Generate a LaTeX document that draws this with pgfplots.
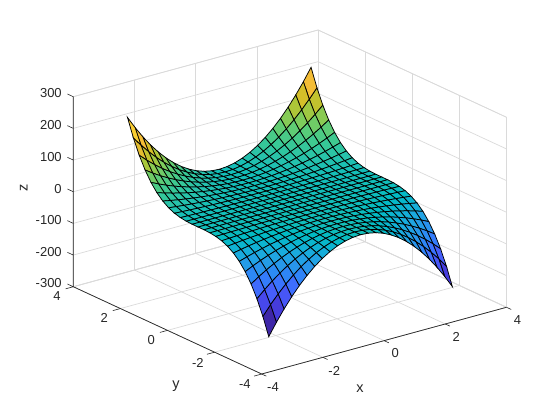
\documentclass[border=0pt]{standalone}
\usepackage{pgfplots}
\usepackage{fontspec}
\setmainfont{Liberation Sans}
\pgfplotsset{compat=1.18}
\definecolor{axdark}{RGB}{38,38,38}
\definecolor{gridc}{RGB}{218,218,218}
\begin{document}
\begin{tikzpicture}
\useasboundingbox (0,0) rectangle (560pt,420pt);
\begin{axis}[
  at={(289.9pt,218pt)}, anchor=origin,
  x={(30.6pt,8.34pt)}, y={(-23.55pt,10.91pt)}, z={(0pt,0.3167pt)},
  xmin=-4,xmax=4,ymin=-4,ymax=4,zmin=-300,zmax=300,
  xtick={-4,-2,0,2,4}, ytick={-4,-2,0,2,4}, ztick={-300,-200,-100,0,100,200,300},
  xticklabels={-4,-2,0,2,4}, yticklabels={-4,-2,0,2,4},
  zticklabels={-300,-200,-100,0,100,200,300},
  grid=major, major grid style={color=gridc,line width=0.7pt},
  axis line style={color=gridc,line width=0.7pt},
  tick style={draw=none},
  tick align=outside, major tick length=5pt,
  tick label style={font=\fontsize{13}{15}\selectfont,text=axdark},
  xticklabel style={xshift=1pt,yshift=-2pt},
  yticklabel style={xshift=-5pt},
  zticklabel style={xshift=-3.5pt},
  label style={font=\fontsize{14.5}{16}\selectfont,text=axdark},
  xlabel={x}, ylabel={y}, zlabel={z},
  xlabel style={at={(axis cs:-2.6,-6.35,-300)},anchor=center,yshift=-1pt},
  ylabel style={at={(axis cs:-6.21,-3.23,-300)},anchor=center,yshift=-2pt},
  zlabel style={at={(axis cs:-4.98,4.91,0)},anchor=center,rotate=0,xshift=2pt,yshift=-2pt},
  colormap={parula}{rgb=(.2422,.1504,.6603) rgb=(.2647,.1978,.7952) rgb=(.2783,.2559,.8991) rgb=(.2810,.3228,.9579) rgb=(.2699,.3892,.9906) rgb=(.2206,.4603,.9973) rgb=(.1786,.5289,.9682) rgb=(.1540,.5902,.9218) rgb=(.1248,.6459,.8883) rgb=(.0689,.6948,.8394) rgb=(.0067,.7312,.7660) rgb=(.1408,.7584,.6842) rgb=(.2161,.7843,.5923) rgb=(.3406,.8008,.4789) rgb=(.5044,.7993,.3480) rgb=(.6720,.7793,.2227) rgb=(.8203,.7498,.1535) rgb=(.9393,.7288,.2100) rgb=(.9970,.7659,.2199) rgb=(.9786,.8386,.1766) rgb=(.9597,.9135,.1423) rgb=(.9769,.9839,.0805)},
  clip=false,
]
\addplot3[surf, shader=flat corner, z buffer=sort, draw=black, faceted color=black, line width=0.75pt, mesh/rows=25, mesh/cols=25, point meta=z, point meta min=-243, point meta max=243] coordinates {
(-3,-3,-243)(-2.75,-3,-204.2)(-2.5,-3,-168.8)(-2.25,-3,-136.7)(-2,-3,-108)(-1.75,-3,-82.7)(-1.5,-3,-60.8)(-1.25,-3,-42.2)(-1,-3,-27)(-.75,-3,-15.2)(-.5,-3,-6.8)(-.25,-3,-1.7)(0,-3,0)(.25,-3,-1.7)(.5,-3,-6.8)(.75,-3,-15.2)(1,-3,-27)(1.25,-3,-42.2)(1.5,-3,-60.8)(1.75,-3,-82.7)(2,-3,-108)(2.25,-3,-136.7)(2.5,-3,-168.8)(2.75,-3,-204.2)(3,-3,-243)
(-3,-2.75,-187.2)(-2.75,-2.75,-157.3)(-2.5,-2.75,-130)(-2.25,-2.75,-105.3)(-2,-2.75,-83.2)(-1.75,-2.75,-63.7)(-1.5,-2.75,-46.8)(-1.25,-2.75,-32.5)(-1,-2.75,-20.8)(-.75,-2.75,-11.7)(-.5,-2.75,-5.2)(-.25,-2.75,-1.3)(0,-2.75,0)(.25,-2.75,-1.3)(.5,-2.75,-5.2)(.75,-2.75,-11.7)(1,-2.75,-20.8)(1.25,-2.75,-32.5)(1.5,-2.75,-46.8)(1.75,-2.75,-63.7)(2,-2.75,-83.2)(2.25,-2.75,-105.3)(2.5,-2.75,-130)(2.75,-2.75,-157.3)(3,-2.75,-187.2)
(-3,-2.5,-140.6)(-2.75,-2.5,-118.2)(-2.5,-2.5,-97.7)(-2.25,-2.5,-79.1)(-2,-2.5,-62.5)(-1.75,-2.5,-47.9)(-1.5,-2.5,-35.2)(-1.25,-2.5,-24.4)(-1,-2.5,-15.6)(-.75,-2.5,-8.8)(-.5,-2.5,-3.9)(-.25,-2.5,-1)(0,-2.5,0)(.25,-2.5,-1)(.5,-2.5,-3.9)(.75,-2.5,-8.8)(1,-2.5,-15.6)(1.25,-2.5,-24.4)(1.5,-2.5,-35.2)(1.75,-2.5,-47.9)(2,-2.5,-62.5)(2.25,-2.5,-79.1)(2.5,-2.5,-97.7)(2.75,-2.5,-118.2)(3,-2.5,-140.6)
(-3,-2.25,-102.5)(-2.75,-2.25,-86.1)(-2.5,-2.25,-71.2)(-2.25,-2.25,-57.7)(-2,-2.25,-45.6)(-1.75,-2.25,-34.9)(-1.5,-2.25,-25.6)(-1.25,-2.25,-17.8)(-1,-2.25,-11.4)(-.75,-2.25,-6.4)(-.5,-2.25,-2.8)(-.25,-2.25,-.7)(0,-2.25,0)(.25,-2.25,-.7)(.5,-2.25,-2.8)(.75,-2.25,-6.4)(1,-2.25,-11.4)(1.25,-2.25,-17.8)(1.5,-2.25,-25.6)(1.75,-2.25,-34.9)(2,-2.25,-45.6)(2.25,-2.25,-57.7)(2.5,-2.25,-71.2)(2.75,-2.25,-86.1)(3,-2.25,-102.5)
(-3,-2,-72)(-2.75,-2,-60.5)(-2.5,-2,-50)(-2.25,-2,-40.5)(-2,-2,-32)(-1.75,-2,-24.5)(-1.5,-2,-18)(-1.25,-2,-12.5)(-1,-2,-8)(-.75,-2,-4.5)(-.5,-2,-2)(-.25,-2,-.5)(0,-2,0)(.25,-2,-.5)(.5,-2,-2)(.75,-2,-4.5)(1,-2,-8)(1.25,-2,-12.5)(1.5,-2,-18)(1.75,-2,-24.5)(2,-2,-32)(2.25,-2,-40.5)(2.5,-2,-50)(2.75,-2,-60.5)(3,-2,-72)
(-3,-1.75,-48.2)(-2.75,-1.75,-40.5)(-2.5,-1.75,-33.5)(-2.25,-1.75,-27.1)(-2,-1.75,-21.4)(-1.75,-1.75,-16.4)(-1.5,-1.75,-12.1)(-1.25,-1.75,-8.4)(-1,-1.75,-5.4)(-.75,-1.75,-3)(-.5,-1.75,-1.3)(-.25,-1.75,-.3)(0,-1.75,0)(.25,-1.75,-.3)(.5,-1.75,-1.3)(.75,-1.75,-3)(1,-1.75,-5.4)(1.25,-1.75,-8.4)(1.5,-1.75,-12.1)(1.75,-1.75,-16.4)(2,-1.75,-21.4)(2.25,-1.75,-27.1)(2.5,-1.75,-33.5)(2.75,-1.75,-40.5)(3,-1.75,-48.2)
(-3,-1.5,-30.4)(-2.75,-1.5,-25.5)(-2.5,-1.5,-21.1)(-2.25,-1.5,-17.1)(-2,-1.5,-13.5)(-1.75,-1.5,-10.3)(-1.5,-1.5,-7.6)(-1.25,-1.5,-5.3)(-1,-1.5,-3.4)(-.75,-1.5,-1.9)(-.5,-1.5,-.8)(-.25,-1.5,-.2)(0,-1.5,0)(.25,-1.5,-.2)(.5,-1.5,-.8)(.75,-1.5,-1.9)(1,-1.5,-3.4)(1.25,-1.5,-5.3)(1.5,-1.5,-7.6)(1.75,-1.5,-10.3)(2,-1.5,-13.5)(2.25,-1.5,-17.1)(2.5,-1.5,-21.1)(2.75,-1.5,-25.5)(3,-1.5,-30.4)
(-3,-1.25,-17.6)(-2.75,-1.25,-14.8)(-2.5,-1.25,-12.2)(-2.25,-1.25,-9.9)(-2,-1.25,-7.8)(-1.75,-1.25,-6)(-1.5,-1.25,-4.4)(-1.25,-1.25,-3.1)(-1,-1.25,-2)(-.75,-1.25,-1.1)(-.5,-1.25,-.5)(-.25,-1.25,-.1)(0,-1.25,0)(.25,-1.25,-.1)(.5,-1.25,-.5)(.75,-1.25,-1.1)(1,-1.25,-2)(1.25,-1.25,-3.1)(1.5,-1.25,-4.4)(1.75,-1.25,-6)(2,-1.25,-7.8)(2.25,-1.25,-9.9)(2.5,-1.25,-12.2)(2.75,-1.25,-14.8)(3,-1.25,-17.6)
(-3,-1,-9)(-2.75,-1,-7.6)(-2.5,-1,-6.3)(-2.25,-1,-5.1)(-2,-1,-4)(-1.75,-1,-3.1)(-1.5,-1,-2.3)(-1.25,-1,-1.6)(-1,-1,-1)(-.75,-1,-.6)(-.5,-1,-.3)(-.25,-1,-.1)(0,-1,0)(.25,-1,-.1)(.5,-1,-.3)(.75,-1,-.6)(1,-1,-1)(1.25,-1,-1.6)(1.5,-1,-2.3)(1.75,-1,-3.1)(2,-1,-4)(2.25,-1,-5.1)(2.5,-1,-6.3)(2.75,-1,-7.6)(3,-1,-9)
(-3,-.75,-3.8)(-2.75,-.75,-3.2)(-2.5,-.75,-2.6)(-2.25,-.75,-2.1)(-2,-.75,-1.7)(-1.75,-.75,-1.3)(-1.5,-.75,-.9)(-1.25,-.75,-.7)(-1,-.75,-.4)(-.75,-.75,-.2)(-.5,-.75,-.1)(-.25,-.75,0)(0,-.75,0)(.25,-.75,0)(.5,-.75,-.1)(.75,-.75,-.2)(1,-.75,-.4)(1.25,-.75,-.7)(1.5,-.75,-.9)(1.75,-.75,-1.3)(2,-.75,-1.7)(2.25,-.75,-2.1)(2.5,-.75,-2.6)(2.75,-.75,-3.2)(3,-.75,-3.8)
(-3,-.5,-1.1)(-2.75,-.5,-.9)(-2.5,-.5,-.8)(-2.25,-.5,-.6)(-2,-.5,-.5)(-1.75,-.5,-.4)(-1.5,-.5,-.3)(-1.25,-.5,-.2)(-1,-.5,-.1)(-.75,-.5,-.1)(-.5,-.5,0)(-.25,-.5,0)(0,-.5,0)(.25,-.5,0)(.5,-.5,0)(.75,-.5,-.1)(1,-.5,-.1)(1.25,-.5,-.2)(1.5,-.5,-.3)(1.75,-.5,-.4)(2,-.5,-.5)(2.25,-.5,-.6)(2.5,-.5,-.8)(2.75,-.5,-.9)(3,-.5,-1.1)
(-3,-.25,-.1)(-2.75,-.25,-.1)(-2.5,-.25,-.1)(-2.25,-.25,-.1)(-2,-.25,-.1)(-1.75,-.25,0)(-1.5,-.25,0)(-1.25,-.25,0)(-1,-.25,0)(-.75,-.25,0)(-.5,-.25,0)(-.25,-.25,0)(0,-.25,0)(.25,-.25,0)(.5,-.25,0)(.75,-.25,0)(1,-.25,0)(1.25,-.25,0)(1.5,-.25,0)(1.75,-.25,0)(2,-.25,-.1)(2.25,-.25,-.1)(2.5,-.25,-.1)(2.75,-.25,-.1)(3,-.25,-.1)
(-3,0,0)(-2.75,0,0)(-2.5,0,0)(-2.25,0,0)(-2,0,0)(-1.75,0,0)(-1.5,0,0)(-1.25,0,0)(-1,0,0)(-.75,0,0)(-.5,0,0)(-.25,0,0)(0,0,0)(.25,0,0)(.5,0,0)(.75,0,0)(1,0,0)(1.25,0,0)(1.5,0,0)(1.75,0,0)(2,0,0)(2.25,0,0)(2.5,0,0)(2.75,0,0)(3,0,0)
(-3,.25,.1)(-2.75,.25,.1)(-2.5,.25,.1)(-2.25,.25,.1)(-2,.25,.1)(-1.75,.25,0)(-1.5,.25,0)(-1.25,.25,0)(-1,.25,0)(-.75,.25,0)(-.5,.25,0)(-.25,.25,0)(0,.25,0)(.25,.25,0)(.5,.25,0)(.75,.25,0)(1,.25,0)(1.25,.25,0)(1.5,.25,0)(1.75,.25,0)(2,.25,.1)(2.25,.25,.1)(2.5,.25,.1)(2.75,.25,.1)(3,.25,.1)
(-3,.5,1.1)(-2.75,.5,.9)(-2.5,.5,.8)(-2.25,.5,.6)(-2,.5,.5)(-1.75,.5,.4)(-1.5,.5,.3)(-1.25,.5,.2)(-1,.5,.1)(-.75,.5,.1)(-.5,.5,0)(-.25,.5,0)(0,.5,0)(.25,.5,0)(.5,.5,0)(.75,.5,.1)(1,.5,.1)(1.25,.5,.2)(1.5,.5,.3)(1.75,.5,.4)(2,.5,.5)(2.25,.5,.6)(2.5,.5,.8)(2.75,.5,.9)(3,.5,1.1)
(-3,.75,3.8)(-2.75,.75,3.2)(-2.5,.75,2.6)(-2.25,.75,2.1)(-2,.75,1.7)(-1.75,.75,1.3)(-1.5,.75,.9)(-1.25,.75,.7)(-1,.75,.4)(-.75,.75,.2)(-.5,.75,.1)(-.25,.75,0)(0,.75,0)(.25,.75,0)(.5,.75,.1)(.75,.75,.2)(1,.75,.4)(1.25,.75,.7)(1.5,.75,.9)(1.75,.75,1.3)(2,.75,1.7)(2.25,.75,2.1)(2.5,.75,2.6)(2.75,.75,3.2)(3,.75,3.8)
(-3,1,9)(-2.75,1,7.6)(-2.5,1,6.3)(-2.25,1,5.1)(-2,1,4)(-1.75,1,3.1)(-1.5,1,2.3)(-1.25,1,1.6)(-1,1,1)(-.75,1,.6)(-.5,1,.3)(-.25,1,.1)(0,1,0)(.25,1,.1)(.5,1,.3)(.75,1,.6)(1,1,1)(1.25,1,1.6)(1.5,1,2.3)(1.75,1,3.1)(2,1,4)(2.25,1,5.1)(2.5,1,6.3)(2.75,1,7.6)(3,1,9)
(-3,1.25,17.6)(-2.75,1.25,14.8)(-2.5,1.25,12.2)(-2.25,1.25,9.9)(-2,1.25,7.8)(-1.75,1.25,6)(-1.5,1.25,4.4)(-1.25,1.25,3.1)(-1,1.25,2)(-.75,1.25,1.1)(-.5,1.25,.5)(-.25,1.25,.1)(0,1.25,0)(.25,1.25,.1)(.5,1.25,.5)(.75,1.25,1.1)(1,1.25,2)(1.25,1.25,3.1)(1.5,1.25,4.4)(1.75,1.25,6)(2,1.25,7.8)(2.25,1.25,9.9)(2.5,1.25,12.2)(2.75,1.25,14.8)(3,1.25,17.6)
(-3,1.5,30.4)(-2.75,1.5,25.5)(-2.5,1.5,21.1)(-2.25,1.5,17.1)(-2,1.5,13.5)(-1.75,1.5,10.3)(-1.5,1.5,7.6)(-1.25,1.5,5.3)(-1,1.5,3.4)(-.75,1.5,1.9)(-.5,1.5,.8)(-.25,1.5,.2)(0,1.5,0)(.25,1.5,.2)(.5,1.5,.8)(.75,1.5,1.9)(1,1.5,3.4)(1.25,1.5,5.3)(1.5,1.5,7.6)(1.75,1.5,10.3)(2,1.5,13.5)(2.25,1.5,17.1)(2.5,1.5,21.1)(2.75,1.5,25.5)(3,1.5,30.4)
(-3,1.75,48.2)(-2.75,1.75,40.5)(-2.5,1.75,33.5)(-2.25,1.75,27.1)(-2,1.75,21.4)(-1.75,1.75,16.4)(-1.5,1.75,12.1)(-1.25,1.75,8.4)(-1,1.75,5.4)(-.75,1.75,3)(-.5,1.75,1.3)(-.25,1.75,.3)(0,1.75,0)(.25,1.75,.3)(.5,1.75,1.3)(.75,1.75,3)(1,1.75,5.4)(1.25,1.75,8.4)(1.5,1.75,12.1)(1.75,1.75,16.4)(2,1.75,21.4)(2.25,1.75,27.1)(2.5,1.75,33.5)(2.75,1.75,40.5)(3,1.75,48.2)
(-3,2,72)(-2.75,2,60.5)(-2.5,2,50)(-2.25,2,40.5)(-2,2,32)(-1.75,2,24.5)(-1.5,2,18)(-1.25,2,12.5)(-1,2,8)(-.75,2,4.5)(-.5,2,2)(-.25,2,.5)(0,2,0)(.25,2,.5)(.5,2,2)(.75,2,4.5)(1,2,8)(1.25,2,12.5)(1.5,2,18)(1.75,2,24.5)(2,2,32)(2.25,2,40.5)(2.5,2,50)(2.75,2,60.5)(3,2,72)
(-3,2.25,102.5)(-2.75,2.25,86.1)(-2.5,2.25,71.2)(-2.25,2.25,57.7)(-2,2.25,45.6)(-1.75,2.25,34.9)(-1.5,2.25,25.6)(-1.25,2.25,17.8)(-1,2.25,11.4)(-.75,2.25,6.4)(-.5,2.25,2.8)(-.25,2.25,.7)(0,2.25,0)(.25,2.25,.7)(.5,2.25,2.8)(.75,2.25,6.4)(1,2.25,11.4)(1.25,2.25,17.8)(1.5,2.25,25.6)(1.75,2.25,34.9)(2,2.25,45.6)(2.25,2.25,57.7)(2.5,2.25,71.2)(2.75,2.25,86.1)(3,2.25,102.5)
(-3,2.5,140.6)(-2.75,2.5,118.2)(-2.5,2.5,97.7)(-2.25,2.5,79.1)(-2,2.5,62.5)(-1.75,2.5,47.9)(-1.5,2.5,35.2)(-1.25,2.5,24.4)(-1,2.5,15.6)(-.75,2.5,8.8)(-.5,2.5,3.9)(-.25,2.5,1)(0,2.5,0)(.25,2.5,1)(.5,2.5,3.9)(.75,2.5,8.8)(1,2.5,15.6)(1.25,2.5,24.4)(1.5,2.5,35.2)(1.75,2.5,47.9)(2,2.5,62.5)(2.25,2.5,79.1)(2.5,2.5,97.7)(2.75,2.5,118.2)(3,2.5,140.6)
(-3,2.75,187.2)(-2.75,2.75,157.3)(-2.5,2.75,130)(-2.25,2.75,105.3)(-2,2.75,83.2)(-1.75,2.75,63.7)(-1.5,2.75,46.8)(-1.25,2.75,32.5)(-1,2.75,20.8)(-.75,2.75,11.7)(-.5,2.75,5.2)(-.25,2.75,1.3)(0,2.75,0)(.25,2.75,1.3)(.5,2.75,5.2)(.75,2.75,11.7)(1,2.75,20.8)(1.25,2.75,32.5)(1.5,2.75,46.8)(1.75,2.75,63.7)(2,2.75,83.2)(2.25,2.75,105.3)(2.5,2.75,130)(2.75,2.75,157.3)(3,2.75,187.2)
(-3,3,243)(-2.75,3,204.2)(-2.5,3,168.8)(-2.25,3,136.7)(-2,3,108)(-1.75,3,82.7)(-1.5,3,60.8)(-1.25,3,42.2)(-1,3,27)(-.75,3,15.2)(-.5,3,6.8)(-.25,3,1.7)(0,3,0)(.25,3,1.7)(.5,3,6.8)(.75,3,15.2)(1,3,27)(1.25,3,42.2)(1.5,3,60.8)(1.75,3,82.7)(2,3,108)(2.25,3,136.7)(2.5,3,168.8)(2.75,3,204.2)(3,3,243)
};
\draw[axdark,line width=0.7pt] (axis cs:-4,4,300) -- (axis cs:-4,4,-300) -- (axis cs:-4,-4,-300) -- (axis cs:4,-4,-300);
\draw[axdark,line width=0.6pt]
 (axis cs:-4,-4,-300) -- (axis cs:-4,-4.2,-300) (axis cs:-2,-4,-300) -- (axis cs:-2,-4.2,-300) (axis cs:0,-4,-300) -- (axis cs:0,-4.2,-300) (axis cs:2,-4,-300) -- (axis cs:2,-4.2,-300) (axis cs:4,-4,-300) -- (axis cs:4,-4.2,-300)
 (axis cs:-4,-4,-300) -- (axis cs:-4.25,-4,-300) (axis cs:-4,-2,-300) -- (axis cs:-4.25,-2,-300) (axis cs:-4,0,-300) -- (axis cs:-4.25,0,-300) (axis cs:-4,2,-300) -- (axis cs:-4.25,2,-300) (axis cs:-4,4,-300) -- (axis cs:-4.25,4,-300)
 (axis cs:-4,4,-300) -- (axis cs:-4,4.25,-300) (axis cs:-4,4,-200) -- (axis cs:-4,4.25,-200) (axis cs:-4,4,-100) -- (axis cs:-4,4.25,-100) (axis cs:-4,4,0) -- (axis cs:-4,4.25,0) (axis cs:-4,4,100) -- (axis cs:-4,4.25,100) (axis cs:-4,4,200) -- (axis cs:-4,4.25,200) (axis cs:-4,4,300) -- (axis cs:-4,4.25,300);
\end{axis}
\end{tikzpicture}
\end{document}
